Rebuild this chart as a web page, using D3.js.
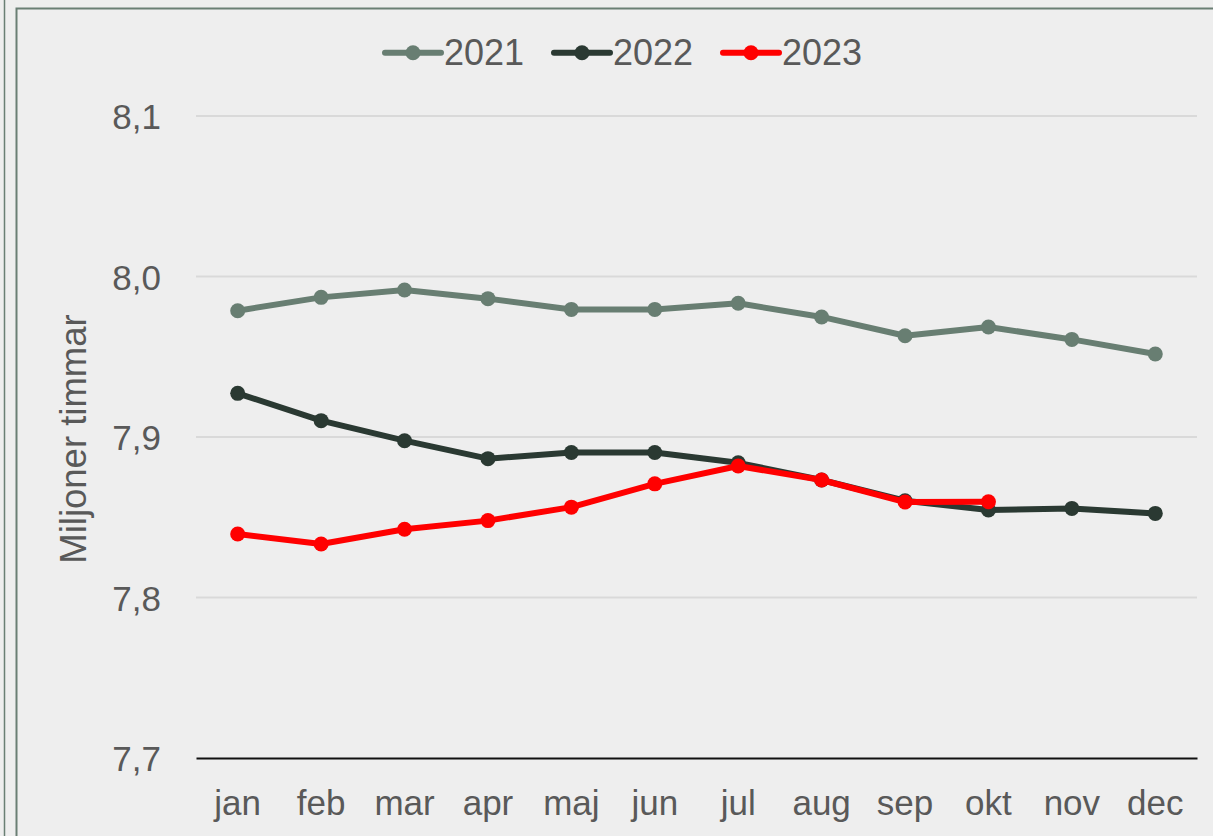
<!DOCTYPE html>
<html>
<head>
<meta charset="utf-8">
<script src="https://cdn.jsdelivr.net/npm/d3@7"></script>
<style>
  html, body { margin: 0; padding: 0; background: #eeeeee; }
  svg { display: block; }
  text { font-family: "Liberation Sans", Arial, sans-serif; fill: #595959; }
</style>
</head>
<body>
<div id="chart"></div>
<script>
var months = ['jan','feb','mar','apr','maj','jun','jul','aug','sep','okt','nov','dec'];
var years = ['2021','2022','2023'];
var values2021 = [7.9787, 7.987, 7.9916, 7.9862, 7.9795, 7.9795, 7.9833, 7.9748, 7.9631, 7.9685, 7.9608, 7.9517];
var values2022 = [7.9272, 7.9102, 7.8977, 7.8865, 7.8903, 7.8903, 7.8839, 7.8732, 7.8603, 7.8545, 7.8555, 7.8524];
var values2023 = [7.8396, 7.8333, 7.8425, 7.8479, 7.8563, 7.8708, 7.8819, 7.8732, 7.8595, 7.8597];
var yTicks = [7.7, 7.8, 7.9, 8.0, 8.1];
var yTitle = 'Miljoner timmar';

var W = 1213, H = 836;
var colors = { '2021': '#687e72', '2022': '#2a3932', '2023': '#ff0000' };
var seriesData = { '2021': values2021, '2022': values2022, '2023': values2023 };

var svg = d3.select('#chart').append('svg').attr('width', W).attr('height', H);

svg.append('rect').attr('width', W).attr('height', H).attr('fill', '#eeeeee');

// frame lines
svg.append('line').attr('x1', 4.5).attr('x2', 4.5).attr('y1', 0).attr('y2', H)
   .attr('stroke', '#6a7f74').attr('stroke-width', 1.5);
svg.append('path').attr('d', 'M16.5,' + H + 'V8.5H' + W)
   .attr('fill', 'none').attr('stroke', '#6a7f74').attr('stroke-width', 2);

var x = d3.scaleBand().domain(months).range([196, 1197]);
var y = d3.scaleLinear().domain([7.7, 8.1]).range([758, 116]);
function cx(i) { return x(months[i]) + x.bandwidth() / 2; }

// gridlines
svg.append('g').selectAll('line')
   .data(yTicks.slice(1))
   .enter().append('line')
   .attr('x1', 196).attr('x2', 1197)
   .attr('y1', function (d) { return y(d); })
   .attr('y2', function (d) { return y(d); })
   .attr('stroke', '#d9d9d9').attr('stroke-width', 2);

// y axis labels
var yAxis = svg.append('g').attr('transform', 'translate(161,0)')
   .call(d3.axisLeft(y).tickValues(yTicks).tickSize(0).tickPadding(0)
     .tickFormat(function (d) { return d3.format('.1f')(d).replace('.', ','); }));
yAxis.select('.domain').remove();
yAxis.selectAll('text').attr('font-size', 35).attr('fill', '#595959')
   .attr('dy', '0.36em').style('font-family', '"Liberation Sans", Arial, sans-serif');

// x axis
var xAxis = svg.append('g').attr('transform', 'translate(0,758)')
   .call(d3.axisBottom(x).tickSize(0).tickPadding(0));
xAxis.select('.domain').attr('stroke', '#111').attr('stroke-width', 2.2);
xAxis.selectAll('text').attr('font-size', 35).attr('fill', '#595959')
   .attr('dy', 0).attr('y', 57).style('font-family', '"Liberation Sans", Arial, sans-serif');

// y title
svg.append('text')
   .attr('transform', 'translate(86,439) rotate(-90)')
   .attr('text-anchor', 'middle')
   .attr('font-size', 36.5)
   .text(yTitle);

// lines and markers
var line = d3.line()
   .x(function (d, i) { return cx(i); })
   .y(function (d) { return y(d); });

years.forEach(function (yr) {
  var vals = seriesData[yr];
  var g = svg.append('g');
  g.append('path').datum(vals)
   .attr('d', line)
   .attr('fill', 'none')
   .attr('stroke', colors[yr])
   .attr('stroke-width', 6)
   .attr('stroke-linejoin', 'round')
   .attr('stroke-linecap', 'round');
  g.selectAll('circle').data(vals).enter().append('circle')
   .attr('cx', function (d, i) { return cx(i); })
   .attr('cy', function (d) { return y(d); })
   .attr('r', 7.5)
   .attr('fill', colors[yr]);
});

// legend
var legendX = [385, 554, 723];
var legend = svg.append('g');
years.forEach(function (yr, i) {
  var lx = legendX[i];
  legend.append('line').attr('x1', lx).attr('x2', lx + 56)
    .attr('y1', 52.7).attr('y2', 52.7)
    .attr('stroke', colors[yr]).attr('stroke-width', 6).attr('stroke-linecap', 'round');
  legend.append('circle').attr('cx', lx + 28).attr('cy', 52.7).attr('r', 7.5).attr('fill', colors[yr]);
  legend.append('text').attr('x', lx + 59).attr('y', 65).attr('font-size', 36).text(yr);
});
</script>
</body>
</html>
